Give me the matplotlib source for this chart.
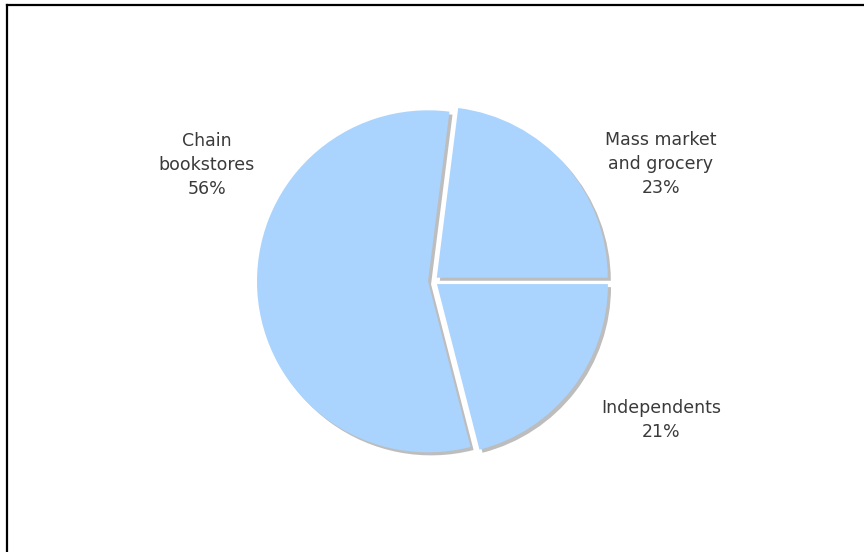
import matplotlib
matplotlib.use("Agg")
import matplotlib.pyplot as plt
import matplotlib.patheffects as pe
from matplotlib.lines import Line2D

# data
labels = ["Mass market\nand grocery", "Chain\nbookstores", "Independents"]
shares = [23, 56, 21]

W, H = 864, 552
fig = plt.figure(figsize=(W / 100, H / 100), dpi=100)
ax = fig.add_axes([0, 0, 1, 1])

# pie centre / radius in pixel space (y measured from bottom)
cx, cy, r = 433, H - 281, 171

# explode is in data units here (pixels)
wedges, _ = ax.pie(shares, center=(cx, cy), radius=r, startangle=0,
                   counterclock=True, explode=[5] * len(shares),
                   colors=["#aad4fd"] * len(shares),
                   wedgeprops=dict(linewidth=0))
for w in wedges:
    w.set_path_effects([pe.SimplePatchShadow(offset=(2.2, -2.2),
                                             shadow_rgbFace="#bdbdbd", alpha=1.0),
                        pe.Normal()])

# pie() resets the limits, so fix them afterwards
ax.set_xlim(0, W)
ax.set_ylim(0, H)
ax.set_aspect("equal")
ax.axis("off")

# labels placed outside the pie
label_pos = [(661, 164), (207, 165), (661, 420)]
for lab, s, (x, y) in zip(labels, shares, label_pos):
    ax.text(x, H - y, f"{lab}\n{s}%", ha="center", va="center",
            fontsize=12.5, color="#3a3a3a", linespacing=1.4,
            family="DejaVu Sans")

# outer frame (only top and left are inside the picture)
fig.add_artist(Line2D([7 / W, 7 / W], [0, 1 - 5 / H], transform=fig.transFigure,
                      color="black", linewidth=1.6))
fig.add_artist(Line2D([7 / W, 1], [1 - 5 / H, 1 - 5 / H], transform=fig.transFigure,
                      color="black", linewidth=1.6))

fig.savefig("out.png", dpi=100)
